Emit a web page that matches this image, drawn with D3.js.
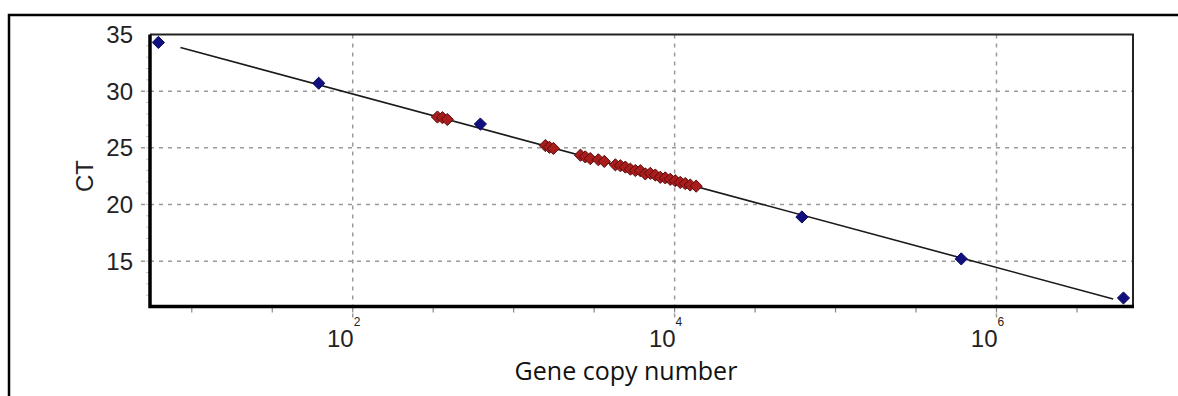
<!DOCTYPE html>
<html>
<head>
<meta charset="utf-8">
<script src="https://cdn.jsdelivr.net/npm/d3@7"></script>
<style>
  html, body { margin: 0; padding: 0; background: #fff; }
  svg { display: block; }
</style>
</head>
<body>
<div id="chart"></div>
<script>
// standard curve points (blue)
const stdCopies = [6.2, 61.5, 621, 61800, 604000, 6150000]
const stdCt = [34.3, 30.7, 27.1, 18.9, 15.2, 11.75]

// samples (red)
const unkCopies = [336, 361, 387, 1574, 1667, 1766, 2600, 2786, 2994, 3357, 3656,
  4285, 4603, 4943, 5309, 5702, 6124, 6577, 7063, 7586, 8147, 8750, 9397,
  10092, 10839, 11641, 12502, 13614]
const unkCt = [27.72, 27.66, 27.5, 25.2, 25.05, 24.95, 24.35, 24.2, 24.05, 23.95, 23.8,
  23.5, 23.42, 23.3, 23.12, 23.0, 22.98, 22.7, 22.75, 22.6, 22.4, 22.35, 22.22,
  22.1, 21.95, 21.85, 21.72, 21.62]

// fitted line end points
const fitCopies = [8.5, 5310000]
const fitCt = [33.85, 11.67]

const yTicks = [15, 20, 25, 30, 35]
const xLabelExp = [2, 4, 6]
const xMinorExp = [1, 1.5, 2, 2.5, 3, 3.5, 4, 4.5, 5, 5.5, 6, 6.5]

const width = 1178
const height = 396

const svg = d3.select('#chart')
  .append('svg')
  .attr('width', width)
  .attr('height', height)

// outer frame (only top and left show)
svg.append('path')
  .attr('d', `M 9 ${height} L 9 15 L ${width} 15`)
  .style('fill', 'none')
  .style('stroke', '#000')
  .style('stroke-width', 2.5)

const x = d3.scaleLog().domain([5.5, 7050000]).range([150, 1133])
const y = d3.scaleLinear().domain([11, 35]).range([306.5, 34.5])

const plotL = x.range()[0]
const plotR = x.range()[1]
const plotT = y.range()[1]
const plotB = y.range()[0]

// grid
svg.append('g')
  .selectAll('line')
  .data(yTicks.filter(d => d < 35))
  .join('line')
  .attr('x1', plotL - 9)
  .attr('x2', plotR)
  .attr('y1', d => y(d))
  .attr('y2', d => y(d))
  .style('stroke', '#9a9a9a')
  .style('stroke-width', 1.5)
  .style('stroke-dasharray', '4,5')

svg.append('g')
  .selectAll('line')
  .data(xLabelExp)
  .join('line')
  .attr('x1', d => x(Math.pow(10, d)))
  .attr('x2', d => x(Math.pow(10, d)))
  .attr('y1', plotT)
  .attr('y2', plotB + 12)
  .style('stroke', '#9a9a9a')
  .style('stroke-width', 1.5)
  .style('stroke-dasharray', '4,5')

// y minor ticks
svg.append('g')
  .selectAll('line')
  .data(d3.range(12, 35))
  .join('line')
  .attr('x1', plotL - 4)
  .attr('x2', plotL)
  .attr('y1', d => y(d))
  .attr('y2', d => y(d))
  .style('stroke', '#c8c8c8')
  .style('stroke-width', 1)

// x minor ticks
svg.append('g')
  .selectAll('line')
  .data(xMinorExp)
  .join('line')
  .attr('x1', d => x(Math.pow(10, d)))
  .attr('x2', d => x(Math.pow(10, d)))
  .attr('y1', plotB)
  .attr('y2', plotB + 6)
  .style('stroke', '#888')
  .style('stroke-width', 1.2)

// plot border
svg.append('path')
  .attr('d', `M ${plotL} ${plotT} L ${plotR} ${plotT} L ${plotR} ${plotB}`)
  .style('fill', 'none')
  .style('stroke', '#222')
  .style('stroke-width', 2)
svg.append('path')
  .attr('d', `M ${plotL} ${plotT} L ${plotL} ${plotB} L ${plotR + 1} ${plotB}`)
  .style('fill', 'none')
  .style('stroke', '#000')
  .style('stroke-width', 3.5)

// y labels
svg.append('g')
  .selectAll('text')
  .data(yTicks)
  .join('text')
  .attr('x', plotL - 17)
  .attr('y', d => y(d) + 8.5)
  .attr('text-anchor', 'end')
  .style('font-family', 'Arial, "Liberation Sans", sans-serif')
  .style('font-size', '24px')
  .style('fill', '#222')
  .text(d => d)

// x labels: 10 with exponent
const xl = svg.append('g')
  .selectAll('g')
  .data(xLabelExp)
  .join('g')
  .attr('transform', d => `translate(${x(Math.pow(10, d))},0)`)
xl.append('text')
  .attr('x', 1)
  .attr('y', 347)
  .attr('text-anchor', 'end')
  .style('font-family', 'Arial, "Liberation Sans", sans-serif')
  .style('font-size', '24px')
  .style('fill', '#222')
  .text('10')
xl.append('text')
  .attr('x', 1)
  .attr('y', 326)
  .style('font-family', 'Arial, "Liberation Sans", sans-serif')
  .style('font-size', '12px')
  .style('fill', '#222')
  .text(d => d)

// axis titles
svg.append('text')
  .attr('x', 626)
  .attr('y', 380)
  .attr('text-anchor', 'middle')
  .style('font-family', '"Segoe UI", "Open Sans", sans-serif')
  .style('font-size', '25px')
  .style('fill', '#111')
  .text('Gene copy number')

svg.append('text')
  .attr('transform', 'translate(93,176) rotate(-90)')
  .attr('text-anchor', 'middle')
  .style('font-family', 'Arial, "Liberation Sans", sans-serif')
  .style('font-size', '24px')
  .style('fill', '#222')
  .text('CT')

// fit line
const fit = fitCopies.map((c, i) => [c, fitCt[i]])
svg.append('path')
  .datum(fit)
  .attr('d', d3.line().x(d => x(d[0])).y(d => y(d[1])))
  .style('fill', 'none')
  .style('stroke', '#1a1a1a')
  .style('stroke-width', 1.6)

const diamond = d3.symbol().type(d3.symbolDiamond2).size(95)

// samples
svg.append('g')
  .selectAll('path')
  .data(unkCopies.map((c, i) => [c, unkCt[i]]))
  .join('path')
  .attr('d', diamond)
  .attr('transform', d => `translate(${x(d[0])},${y(d[1])})`)
  .style('fill', '#a81c1c')
  .style('stroke', '#5a0c0c')
  .style('stroke-width', 1)

// standards
svg.append('g')
  .selectAll('path')
  .data(stdCopies.map((c, i) => [c, stdCt[i]]))
  .join('path')
  .attr('d', diamond)
  .attr('transform', d => `translate(${x(d[0])},${y(d[1])})`)
  .style('fill', '#101080')
  .style('stroke', '#0a0a55')
  .style('stroke-width', 1)
</script>
</body>
</html>
